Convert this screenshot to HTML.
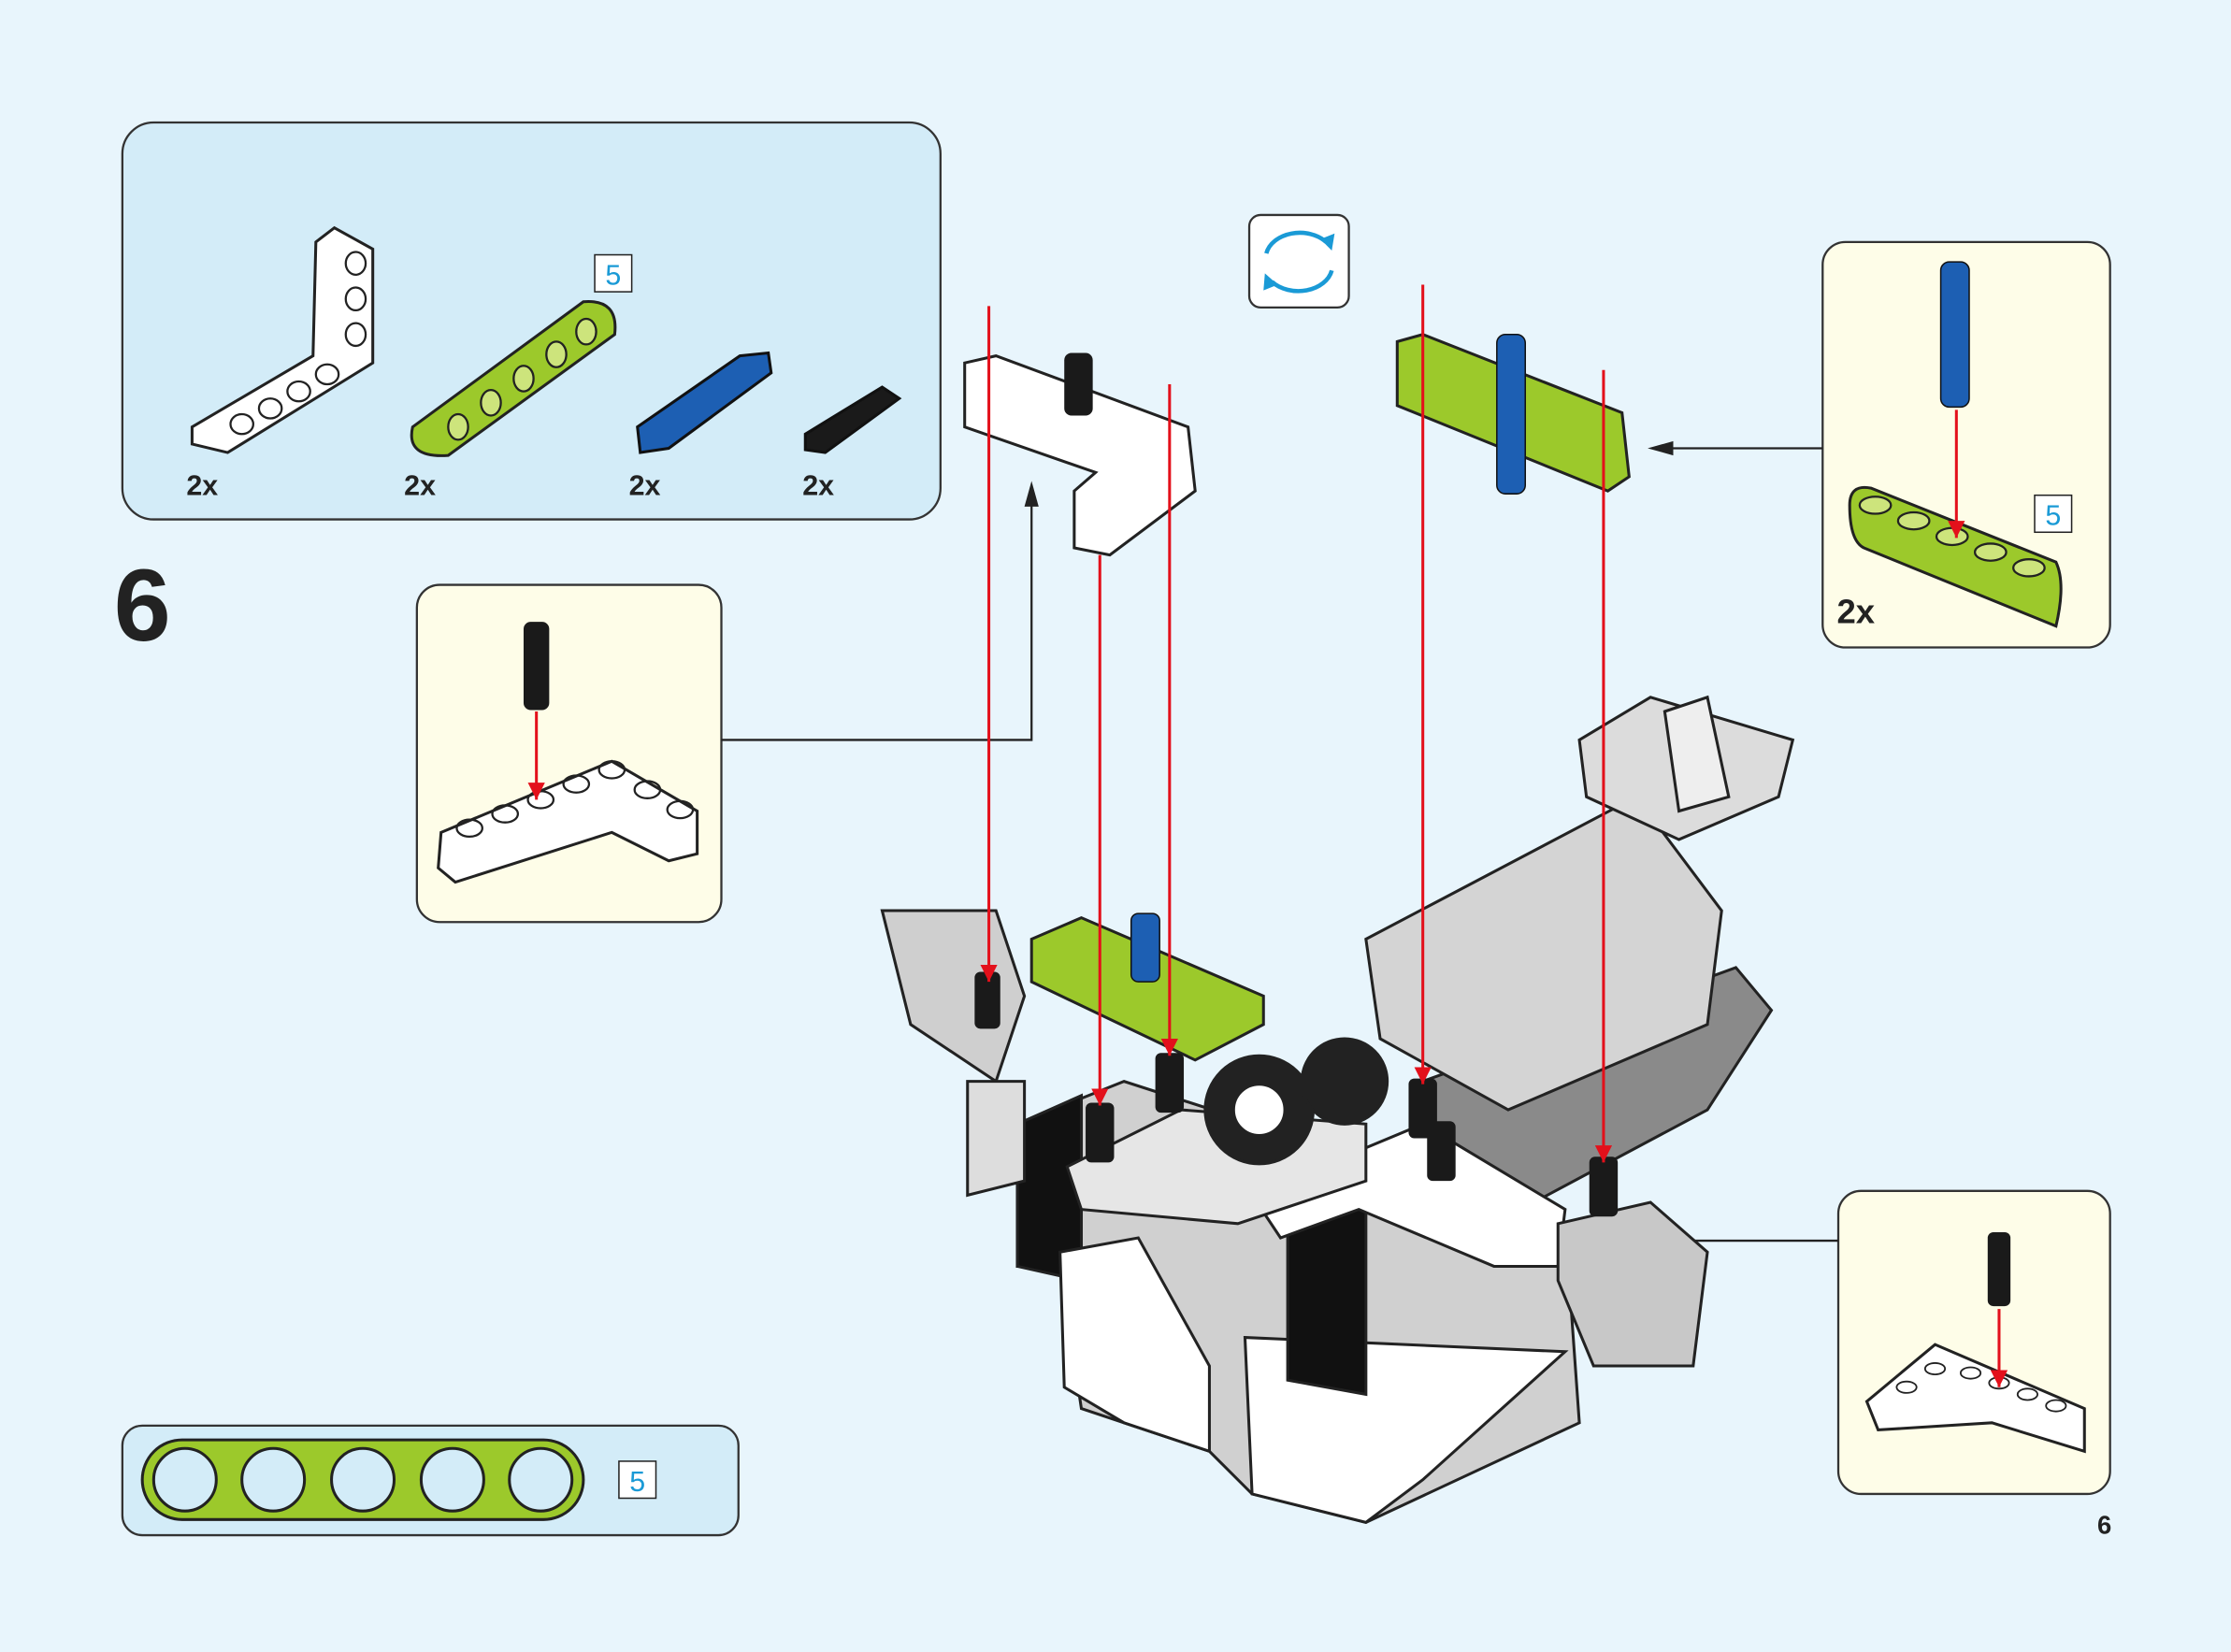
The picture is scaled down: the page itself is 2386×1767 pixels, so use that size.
<!DOCTYPE html>
<html><head><meta charset="utf-8"><style>
html,body{margin:0;padding:0;background:#e8f5fc;}
svg{display:block}
text{font-family:"Liberation Sans",Arial,sans-serif;}
</style></head><body>
<svg width="2386" height="1767" viewBox="0 0 1568 1161" xmlns="http://www.w3.org/2000/svg">
<defs>
<marker id="ra" markerWidth="12" markerHeight="12" refX="10" refY="5" orient="auto" markerUnits="userSpaceOnUse" viewBox="0 0 10 10"><path d="M0,0 L10,5 L0,10 z" fill="#e3101b"/></marker>
</defs>
<rect width="1568" height="1161" fill="#e8f5fc"/>
<!-- parts box -->
<rect x="86" y="86" width="575" height="279" rx="22" fill="#d3ecf8" stroke="#333" stroke-width="1.5"/>
<path d="M135,300 L220,250 L222,170 L235,160 L262,175 L262,255 L160,318 L135,312 z" fill="#fff" stroke="#222" stroke-width="2"/>
<g fill="none" stroke="#222" stroke-width="1.5"><ellipse cx="250" cy="185" rx="7" ry="8"/><ellipse cx="250" cy="210" rx="7" ry="8"/><ellipse cx="250" cy="235" rx="7" ry="8"/><ellipse cx="170" cy="298" rx="8" ry="7"/><ellipse cx="190" cy="287" rx="8" ry="7"/><ellipse cx="210" cy="275" rx="8" ry="7"/><ellipse cx="230" cy="263" rx="8" ry="7"/></g>
<path d="M290,300 L410,212 Q435,210 432,235 L315,320 Q285,322 290,300 z" fill="#9cc92b" stroke="#222" stroke-width="2"/>
<g fill="#cde47c" stroke="#222" stroke-width="1.5"><ellipse cx="322" cy="300" rx="7" ry="9"/><ellipse cx="345" cy="283" rx="7" ry="9"/><ellipse cx="368" cy="266" rx="7" ry="9"/><ellipse cx="391" cy="249" rx="7" ry="9"/><ellipse cx="412" cy="233" rx="7" ry="9"/></g>
<rect x="418" y="179" width="26" height="26" fill="#fff" stroke="#222"/><text x="431" y="200" font-size="20" fill="#1a9ad6" text-anchor="middle">5</text>
<path d="M448,300 L520,250 L540,248 L542,262 L470,315 L450,318 z" fill="#1d5fb3" stroke="#111" stroke-width="2"/>
<path d="M566,305 L620,272 L632,280 L580,318 L566,316 z" fill="#1a1a1a" stroke="#111" stroke-width="2"/>
<g font-size="20" font-weight="bold" fill="#222"><text x="131" y="348">2x</text><text x="284" y="348">2x</text><text x="442" y="348">2x</text><text x="564" y="348">2x</text></g>
<text x="80" y="450" font-size="72" font-weight="bold" fill="#222">6</text>
<!-- rotate icon -->
<rect x="878" y="151" width="70" height="65" rx="8" fill="#fff" stroke="#333" stroke-width="1.5"/>
<path d="M890,178 A24,18 0 0 1 932,170" fill="none" stroke="#1a9ad6" stroke-width="3"/><path d="M936,176 L938,164 L928,168 z" fill="#1a9ad6"/>
<path d="M936,190 A24,18 0 0 1 894,198" fill="none" stroke="#1a9ad6" stroke-width="3"/><path d="M889,192 L888,204 L898,200 z" fill="#1a9ad6"/>
<!-- left sub box -->
<rect x="293" y="411" width="214" height="237" rx="16" fill="#fefde8" stroke="#333" stroke-width="1.5"/>
<path d="M310,585 L430,535 L490,570 L490,600 L470,605 L430,585 L320,620 L308,610 z" fill="#fff" stroke="#222" stroke-width="2"/>
<g fill="none" stroke="#222" stroke-width="1.5"><ellipse cx="330" cy="582" rx="9" ry="6"/><ellipse cx="355" cy="572" rx="9" ry="6"/><ellipse cx="380" cy="562" rx="9" ry="6"/><ellipse cx="405" cy="551" rx="9" ry="6"/><ellipse cx="430" cy="541" rx="9" ry="6"/><ellipse cx="455" cy="555" rx="9" ry="6"/><ellipse cx="478" cy="569" rx="9" ry="6"/></g>
<rect x="368" y="437" width="18" height="62" rx="5" fill="#1a1a1a"/>
<line x1="377" y1="500" x2="377" y2="562" stroke="#e3101b" stroke-width="2" marker-end="url(#ra)"/>
<polyline points="507,520 725,520 725,345" fill="none" stroke="#222" stroke-width="1.5"/><path d="M720,356 L725,338 L730,356 z" fill="#222"/>
<!-- right top sub box -->
<rect x="1281" y="170" width="202" height="285" rx="16" fill="#fefde8" stroke="#333" stroke-width="1.5"/>
<rect x="1364" y="184" width="20" height="102" rx="6" fill="#1d5fb3" stroke="#111"/>
<path d="M1300,355 Q1300,340 1315,343 L1445,395 Q1452,410 1445,440 L1310,385 Q1300,380 1300,355 z" fill="#9cc92b" stroke="#222" stroke-width="2"/>
<g fill="#cde47c" stroke="#222" stroke-width="1.5"><ellipse cx="1318" cy="355" rx="11" ry="6"/><ellipse cx="1345" cy="366" rx="11" ry="6"/><ellipse cx="1372" cy="377" rx="11" ry="6"/><ellipse cx="1399" cy="388" rx="11" ry="6"/><ellipse cx="1426" cy="399" rx="11" ry="6"/></g>
<line x1="1375" y1="288" x2="1375" y2="378" stroke="#e3101b" stroke-width="2" marker-end="url(#ra)"/>
<rect x="1430" y="348" width="26" height="26" fill="#fff" stroke="#222"/><text x="1443" y="369" font-size="20" fill="#1a9ad6" text-anchor="middle">5</text>
<text x="1291" y="438" font-size="24" font-weight="bold" fill="#222">2x</text>
<line x1="1281" y1="315" x2="1170" y2="315" stroke="#222" stroke-width="1.5"/><path d="M1176,310 L1158,315 L1176,320 z" fill="#222"/>
<!-- right bottom sub box -->
<rect x="1292" y="837" width="191" height="213" rx="16" fill="#fefde8" stroke="#333" stroke-width="1.5"/>
<rect x="1397" y="866" width="16" height="52" rx="4" fill="#1a1a1a"/>
<path d="M1312,985 L1360,945 L1465,990 L1465,1020 L1400,1000 L1320,1005 z" fill="#fff" stroke="#222" stroke-width="2"/>
<g fill="none" stroke="#222" stroke-width="1.2"><ellipse cx="1340" cy="975" rx="7" ry="4"/><ellipse cx="1360" cy="962" rx="7" ry="4"/><ellipse cx="1385" cy="965" rx="7" ry="4"/><ellipse cx="1405" cy="972" rx="7" ry="4"/><ellipse cx="1425" cy="980" rx="7" ry="4"/><ellipse cx="1445" cy="988" rx="7" ry="4"/></g>
<line x1="1405" y1="920" x2="1405" y2="975" stroke="#e3101b" stroke-width="2" marker-end="url(#ra)"/>
<line x1="1292" y1="872" x2="1115" y2="872" stroke="#222" stroke-width="1.5"/><path d="M1121,867 L1103,872 L1121,877 z" fill="#222"/>
<!-- bottom-left box -->
<rect x="86" y="1002" width="433" height="77" rx="14" fill="#d3ecf8" stroke="#333" stroke-width="1.5"/>
<rect x="100" y="1012" width="310" height="56" rx="28" fill="#9cc92b" stroke="#222" stroke-width="2"/>
<g fill="#d3ecf8" stroke="#222" stroke-width="2"><circle cx="130" cy="1040" r="22"/><circle cx="192" cy="1040" r="22"/><circle cx="255" cy="1040" r="22"/><circle cx="318" cy="1040" r="22"/><circle cx="380" cy="1040" r="22"/></g>
<rect x="435" y="1027" width="26" height="26" fill="#fff" stroke="#222"/><text x="448" y="1048" font-size="20" fill="#1a9ad6" text-anchor="middle">5</text>
<text x="1474" y="1078" font-size="18" font-weight="bold" fill="#222">6</text>
<!-- main model (approximate) -->
<g stroke="#222" stroke-width="2">
<path d="M620,640 L700,640 L720,700 L700,760 L640,720 z" fill="#cfcfcf"/>
<path d="M1000,760 L1220,680 L1245,710 L1200,780 L1050,860 L1000,820 z" fill="#8a8a8a"/>
<path d="M960,660 L1150,560 L1210,640 L1200,720 L1060,780 L970,730 z" fill="#d4d4d4"/>
<path d="M1110,520 L1160,490 L1260,520 L1250,560 L1180,590 L1115,560 z" fill="#dcdcdc"/>
<path d="M1170,500 L1200,490 L1215,560 L1180,570 z" fill="#eee"/>
<path d="M715,790 L790,760 L1100,860 L1110,1000 L960,1070 L880,1050 L850,1020 L760,990 L745,890 L715,890 z" fill="#d0d0d0"/>
<path d="M715,790 L760,770 L760,900 L715,890 z" fill="#111"/>
<path d="M745,880 L800,870 L850,960 L850,1020 L790,1000 L748,975 z" fill="#fff"/>
<path d="M875,940 L1100,950 L1000,1040 L960,1070 L880,1050 z" fill="#fff"/>
<path d="M905,860 L960,840 L960,980 L905,970 z" fill="#111"/>
<path d="M880,840 L1000,790 L1100,850 L1095,890 L1050,890 L955,850 L900,870 z" fill="#fff"/>
<path d="M750,820 L830,780 L960,790 L960,830 L870,860 L760,850 z" fill="#e6e6e6"/>
<path d="M725,660 L760,645 L888,700 L888,720 L840,745 L725,690 z" fill="#9cc92b"/>
<circle cx="885" cy="780" r="38" fill="#222"/><circle cx="885" cy="780" r="18" fill="#fff"/>
<circle cx="945" cy="760" r="30" fill="#222"/>
<path d="M1095,860 L1160,845 L1200,880 L1190,960 L1120,960 L1095,900 z" fill="#c8c8c8"/>
<path d="M680,840 L720,830 L720,760 L680,760 z" fill="#ddd"/>
</g>
<g fill="#1a1a1a"><rect x="685" y="683" width="18" height="40" rx="4"/><rect x="763" y="775" width="20" height="42" rx="4"/><rect x="812" y="740" width="20" height="42" rx="4"/><rect x="990" y="758" width="20" height="42" rx="4"/><rect x="1003" y="788" width="20" height="42" rx="4"/><rect x="1117" y="813" width="20" height="42" rx="4"/></g>
<rect x="795" y="642" width="20" height="48" rx="5" fill="#1d5fb3" stroke="#111"/>
<!-- floating L beam -->
<path d="M678,255 L700,250 L835,300 L840,345 L780,390 L755,385 L755,345 L770,332 L678,300 z" fill="#fff" stroke="#222" stroke-width="2"/>
<rect x="748" y="248" width="20" height="44" rx="5" fill="#1a1a1a"/>
<!-- floating green beam -->
<path d="M982,240 L1000,235 L1140,290 L1145,335 L1130,345 L982,285 z" fill="#9cc92b" stroke="#222" stroke-width="2"/>
<rect x="1052" y="235" width="20" height="112" rx="6" fill="#1d5fb3" stroke="#111"/>
<!-- red lines -->
<g stroke="#e3101b" stroke-width="2" fill="none">
<line x1="695" y1="215" x2="695" y2="690" marker-end="url(#ra)"/>
<line x1="773" y1="390" x2="773" y2="777" marker-end="url(#ra)"/>
<line x1="822" y1="270" x2="822" y2="742" marker-end="url(#ra)"/>
<line x1="1000" y1="200" x2="1000" y2="762" marker-end="url(#ra)"/>
<line x1="1127" y1="260" x2="1127" y2="817" marker-end="url(#ra)"/>
</g>
</svg>
</body></html>
